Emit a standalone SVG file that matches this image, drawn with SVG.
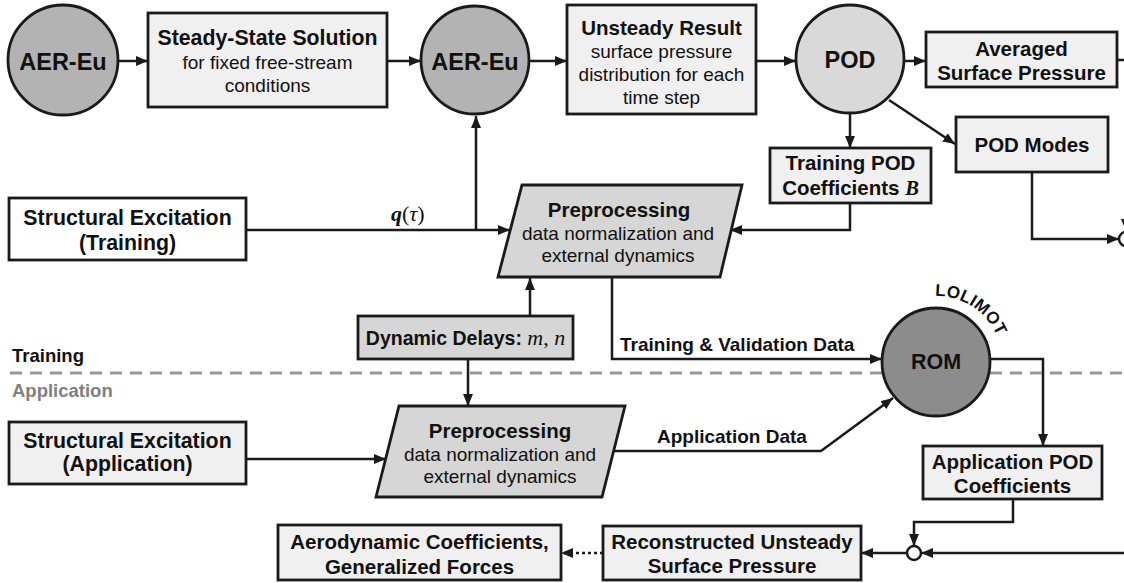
<svg xmlns="http://www.w3.org/2000/svg" width="1124" height="583" viewBox="0 0 1124 583">
<defs>
<style>
.box{fill:#f0f0f0;stroke:#1a1a1a;stroke-width:2.8}
.wbox{fill:#ffffff;stroke:#1a1a1a;stroke-width:2.8}
.gbox{fill:#d6d6d6;stroke:#1a1a1a;stroke-width:2.8}
.aer{fill:#b3b3b3;stroke:#1a1a1a;stroke-width:2.8}
.pod{fill:#d9d9d9;stroke:#1a1a1a;stroke-width:2.8}
.rom{fill:#8c8c8c;stroke:#1a1a1a;stroke-width:2.8}
.sum{fill:#ffffff;stroke:#1a1a1a;stroke-width:2.5}
.ln{fill:none;stroke:#1a1a1a;stroke-width:2.5}
.arr{marker-end:url(#ah)}
.dot{stroke-dasharray:3 3}
.t{font-family:"Liberation Sans",Arial,sans-serif;fill:#111;text-anchor:middle}
.b{font-weight:bold;font-size:20.5px}
.bl{font-weight:bold;font-size:21.3px}
.big{font-weight:bold;font-size:23.5px}
.r{font-size:19px}
.lab{font-family:"Liberation Sans",Arial,sans-serif;font-weight:bold;font-size:19px;fill:#111}
.m{font-family:"Liberation Serif","Times New Roman",serif;font-style:italic;font-weight:normal}
.mb{font-family:"Liberation Serif","Times New Roman",serif;font-style:italic;font-weight:bold}
.mr{font-family:"Liberation Serif","Times New Roman",serif;font-style:normal;font-weight:normal}
</style>
<marker id="ah" viewBox="0 0 12 10" refX="12" refY="5" markerWidth="12" markerHeight="10" markerUnits="userSpaceOnUse" orient="auto">
<path d="M0,0 L12,5 L0,10 z" fill="#1a1a1a"/>
</marker>
<path id="loli" d="M935,296 A66,66 0 0 1 1000,344"/>
</defs>

<g id="connectors">
<line class="ln arr" x1="118" y1="61" x2="148" y2="61"/>
<line class="ln arr" x1="387" y1="61" x2="421" y2="61"/>
<line class="ln arr" x1="529" y1="61" x2="567" y2="61"/>
<line class="ln arr" x1="756" y1="61" x2="796" y2="61"/>
<line class="ln arr" x1="904" y1="61" x2="926" y2="61"/>
<path class="ln arr" d="M1117,60 H1126 V231"/>
<line class="ln arr" x1="850" y1="113" x2="850" y2="148"/>
<line class="ln arr" x1="889" y1="100" x2="955" y2="144"/>
<path class="ln arr" d="M1032,172 V239 H1119"/>
<path class="ln arr" d="M850,203 V230 H730"/>
<line class="ln arr" x1="246" y1="230" x2="510" y2="230"/>
<path class="ln arr" d="M476,230 V116"/>
<line class="ln arr" x1="530" y1="316" x2="530" y2="278"/>
<line class="ln arr" x1="468" y1="359" x2="468" y2="406"/>
<path class="ln arr" d="M612,277 V359 H882"/>
<path class="ln arr" d="M990,359 H1043 V446"/>
<line class="ln arr" x1="246" y1="459" x2="386" y2="459"/>
<path class="ln arr" d="M613,451 H821 L893,398"/>
<path class="ln arr" d="M1013,499 V522 H914 V546"/>
<line class="ln arr" x1="1130" y1="553" x2="921" y2="553"/>
<line class="ln arr" x1="907" y1="553" x2="861" y2="553"/>
<line class="ln dot arr" x1="603" y1="553" x2="561" y2="553"/>
</g>

<g id="phase-divider">
<line x1="10" y1="373" x2="1124" y2="373" stroke="#999999" stroke-width="3" stroke-dasharray="12 8"/>
<text x="12" y="362" font-family="Liberation Sans,Arial,sans-serif" font-weight="bold" font-size="18.5" fill="#111">Training</text>
<text x="12" y="397" font-family="Liberation Sans,Arial,sans-serif" font-weight="bold" font-size="18.5" fill="#808080">Application</text>
</g>

<g id="aer-eu-1">
<circle class="aer" cx="63" cy="60" r="55"/>
<text class="t big" x="63" y="70">AER-Eu</text>
</g>

<g id="steady-state">
<rect class="box" x="148" y="13" width="239" height="94"/>
<text class="t bl" x="267.5" y="45">Steady-State Solution</text>
<text class="t r" x="267.5" y="69">for fixed free-stream</text>
<text class="t r" x="267.5" y="92">conditions</text>
</g>

<g id="aer-eu-2">
<circle class="aer" cx="475" cy="60" r="54"/>
<text class="t big" x="475" y="70">AER-Eu</text>
</g>

<g id="unsteady-result">
<rect class="box" x="567" y="5" width="189" height="109"/>
<text class="t b" x="661.5" y="35">Unsteady Result</text>
<text class="t r" x="661.5" y="58">surface pressure</text>
<text class="t r" x="661.5" y="81">distribution for each</text>
<text class="t r" x="661.5" y="104">time step</text>
</g>

<g id="pod">
<circle class="pod" cx="850" cy="59" r="54"/>
<text class="t big" x="850" y="68">POD</text>
</g>

<g id="averaged-pressure">
<rect class="box" x="926" y="32" width="191" height="55"/>
<text class="t b" x="1021.5" y="56">Averaged</text>
<text class="t b" x="1021.5" y="80">Surface Pressure</text>
</g>

<g id="training-pod-coefficients">
<rect class="box" x="770" y="148" width="161" height="55"/>
<text class="t b" x="850.5" y="170">Training POD</text>
<text class="t b" x="850.5" y="195">Coefficients <tspan class="mb">B</tspan></text>
</g>

<g id="pod-modes">
<rect class="box" x="956" y="117" width="152" height="55"/>
<text class="t b" x="1032" y="152">POD Modes</text>
</g>

<g id="sum-top">
<circle class="sum" cx="1126" cy="239" r="7"/>
</g>

<g id="structural-excitation-training">
<rect class="wbox" x="9" y="198" width="237" height="62"/>
<text class="t bl" x="127.5" y="225">Structural Excitation</text>
<text class="t bl" x="127.5" y="250">(Training)</text>
</g>

<g id="q-label">
<text x="391" y="221" font-size="22" fill="#111"><tspan class="mb">q</tspan><tspan class="mr">(</tspan><tspan class="m">τ</tspan><tspan class="mr">)</tspan></text>
</g>

<g id="preprocessing-training">
<polygon class="gbox" points="522,185 742,185 720,277 498,277"/>
<text class="t b" x="619" y="217">Preprocessing</text>
<text class="t r" x="618" y="240">data normalization and</text>
<text class="t r" x="618" y="262">external dynamics</text>
</g>

<g id="dynamic-delays">
<rect class="gbox" x="358" y="316" width="215" height="43"/>
<text class="t" x="465.5" y="345" font-weight="bold" font-size="19.5">Dynamic Delays: <tspan class="m" font-size="22">m</tspan><tspan class="mr" font-size="22">, </tspan><tspan class="m" font-size="22">n</tspan></text>
</g>

<g id="training-validation-label">
<text class="lab" x="620" y="351">Training &amp; Validation Data</text>
</g>

<g id="rom">
<circle class="rom" cx="936" cy="362" r="54"/>
<text class="t" x="936" y="369" font-weight="bold" font-size="21.5">ROM</text>
<text font-family="Liberation Sans,Arial,sans-serif" font-weight="bold" font-size="17" letter-spacing="0.3" fill="#111"><textPath href="#loli">LOLIMOT</textPath></text>
</g>

<g id="structural-excitation-application">
<rect class="box" x="9" y="422" width="237" height="62"/>
<text class="t bl" x="127.5" y="448">Structural Excitation</text>
<text class="t bl" x="127.5" y="471">(Application)</text>
</g>

<g id="preprocessing-application">
<polygon class="gbox" points="399,406 625,406 602,497 376,497"/>
<text class="t b" x="500" y="438">Preprocessing</text>
<text class="t r" x="500" y="461">data normalization and</text>
<text class="t r" x="500" y="483">external dynamics</text>
</g>

<g id="application-data-label">
<text class="lab" x="657" y="443">Application Data</text>
</g>

<g id="application-pod-coefficients">
<rect class="box" x="923" y="446" width="179" height="53"/>
<text class="t b" x="1012.5" y="469">Application POD</text>
<text class="t b" x="1012.5" y="493">Coefficients</text>
</g>

<g id="sum-bottom">
<circle class="sum" cx="914" cy="553" r="7"/>
</g>

<g id="reconstructed-pressure">
<rect class="box" x="603" y="526" width="258" height="54"/>
<text class="t b" x="732" y="549">Reconstructed Unsteady</text>
<text class="t b" x="732" y="573">Surface Pressure</text>
</g>

<g id="aerodynamic-coefficients">
<rect class="box" x="278" y="525" width="283" height="55"/>
<text class="t b" x="419.5" y="549">Aerodynamic Coefficients,</text>
<text class="t b" x="419.5" y="574">Generalized Forces</text>
</g>
</svg>
